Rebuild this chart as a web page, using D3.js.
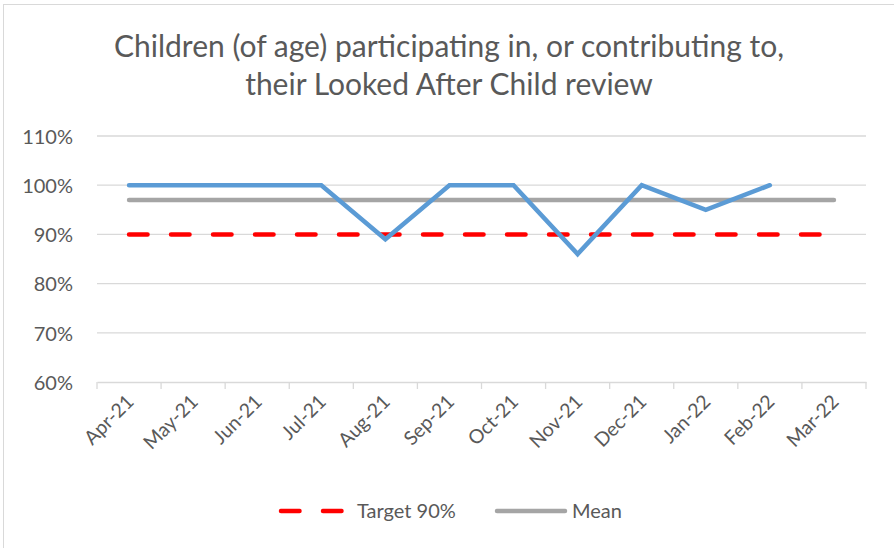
<!DOCTYPE html>
<html>
<head>
<meta charset="utf-8">
<script src="https://cdn.jsdelivr.net/npm/d3@7"></script>
<style>
  body { margin: 0; background: #fff; }
  text { font-family: Lato, "Open Sans", sans-serif; fill: #595959; }
</style>
</head>
<body>
<div id="container"></div>
<script>
var months = ["Apr-21", "May-21", "Jun-21", "Jul-21", "Aug-21", "Sep-21",
              "Oct-21", "Nov-21", "Dec-21", "Jan-22", "Feb-22", "Mar-22"];
var actual = [100, 100, 100, 100, 89, 100, 100, 86, 100, 95, 100, null];
var target = [90, 90, 90, 90, 90, 90, 90, 90, 90, 90, 90, 90];
var mean = [97, 97, 97, 97, 97, 97, 97, 97, 97, 97, 97, 97];
var yTicks = [60, 70, 80, 90, 100, 110];
var titleLines = ["Children (of age) participating in, or contributing to,",
                  "their Looked After Child review"];

var width = 894, height = 548;
var margin = {top: 136, right: 28, bottom: 166, left: 97};

var svg = d3.select("#container").append("svg")
    .attr("width", width)
    .attr("height", height);

// chart border (only top and left visible in the reference crop)
svg.append("rect")
    .attr("x", 3.5).attr("y", 4.5)
    .attr("width", width + 10).attr("height", height + 10)
    .attr("fill", "none")
    .attr("stroke", "#d9d9d9");

var x = d3.scaleBand()
    .domain(months)
    .range([margin.left, width - margin.right]);

var y = d3.scaleLinear()
    .domain([60, 110])
    .range([height - margin.bottom, margin.top]);

var cx = function(d, i) { return x(months[i]) + x.bandwidth() / 2; };

// title
svg.append("text")
    .attr("x", 449)
    .attr("text-anchor", "middle")
    .style("font-size", "30px")
  .selectAll("tspan")
    .data(titleLines)
  .enter().append("tspan")
    .attr("x", 449)
    .attr("y", function(d, i) { return 57 + i * 38; })
    .text(function(d) { return d; });

// gridlines
svg.append("g")
  .selectAll("line")
    .data(yTicks.slice(1))
  .enter().append("line")
    .attr("x1", margin.left).attr("x2", width - margin.right)
    .attr("y1", function(d) { return y(d); })
    .attr("y2", function(d) { return y(d); })
    .attr("stroke", "#d9d9d9")
    .attr("stroke-width", 1.3);

// y axis labels
var yAxis = d3.axisLeft(y)
    .tickValues(yTicks)
    .tickFormat(function(d) { return d + "%"; })
    .tickSize(0)
    .tickPadding(24);

svg.append("g")
    .attr("transform", "translate(" + margin.left + ",0)")
    .call(yAxis)
    .call(function(g) { g.select(".domain").remove(); })
    .selectAll("text")
    .style("font-size", "20px")
    .attr("dy", "0.36em");

// x axis
var xAxis = d3.axisBottom(x).tickSize(0).tickPadding(0);
var gx = svg.append("g")
    .attr("transform", "translate(0," + y(60) + ")")
    .call(xAxis);
gx.select(".domain")
    .attr("stroke", "#d9d9d9")
    .attr("stroke-width", 1.3);
gx.selectAll(".tick text")
    .style("font-size", "19.5px")
    .attr("text-anchor", "end")
    .attr("y", 0)
    .attr("dy", 0)
    .attr("transform", "translate(6,21) rotate(-45)");

// category boundary ticks
var bounds = months.map(function(m) { return x(m); }).concat([width - margin.right]);
svg.append("g")
  .selectAll("line")
    .data(bounds)
  .enter().append("line")
    .attr("x1", function(d) { return d; })
    .attr("x2", function(d) { return d; })
    .attr("y1", y(60))
    .attr("y2", y(60) + 7)
    .attr("stroke", "#d9d9d9")
    .attr("stroke-width", 1.3);

var line = d3.line()
    .defined(function(d) { return d != null; })
    .x(cx)
    .y(function(d) { return y(d); });

svg.append("path")
    .datum(target)
    .attr("d", line)
    .attr("fill", "none")
    .attr("stroke", "#ff0000")
    .attr("stroke-width", 4.5)
    .attr("stroke-linecap", "round")
    .attr("stroke-dasharray", "18.5,23.5");

svg.append("path")
    .datum(mean)
    .attr("d", line)
    .attr("fill", "none")
    .attr("stroke", "#a5a5a5")
    .attr("stroke-width", 4.5)
    .attr("stroke-linecap", "round");

svg.append("path")
    .datum(actual)
    .attr("d", line)
    .attr("fill", "none")
    .attr("stroke", "#5b9bd5")
    .attr("stroke-width", 4.5)
    .attr("stroke-linecap", "round")
    .attr("stroke-linejoin", "miter");

// legend
var legend = [
  {name: "Target 90%", color: "#ff0000", dash: "18.5,23.5", x0: 281},
  {name: "Mean", color: "#a5a5a5", dash: null, x0: 497}
];
var lg = svg.append("g").selectAll("g")
    .data(legend)
  .enter().append("g")
    .attr("transform", function(d) { return "translate(" + d.x0 + ",511)"; });
lg.append("line")
    .attr("x1", 0).attr("x2", 68)
    .attr("stroke", function(d) { return d.color; })
    .attr("stroke-width", 4.5)
    .attr("stroke-linecap", "round")
    .attr("stroke-dasharray", function(d) { return d.dash; });
lg.append("text")
    .attr("x", function(d, i) { return i === 0 ? 76 : 75; })
    .attr("dy", "0.36em")
    .style("font-size", "20px")
    .text(function(d) { return d.name; });
</script>
</body>
</html>
